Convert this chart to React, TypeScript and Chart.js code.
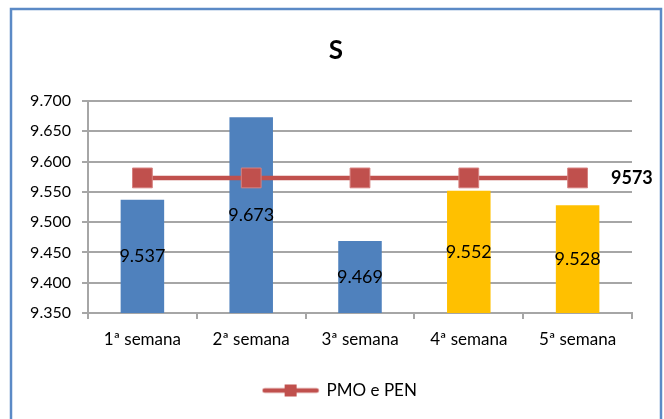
import React, { useEffect, useRef } from 'react';
import { Chart, registerables } from 'chart.js';
Chart.register(...registerables);

const categories = ['1ª semana', '2ª semana', '3ª semana', '4ª semana', '5ª semana'];
const barValues = [9.537, 9.673, 9.469, 9.552, 9.528];
const barColors = ['#4F81BD', '#4F81BD', '#4F81BD', '#FFC000', '#FFC000'];
const pmoValues = [9.573, 9.573, 9.573, 9.573, 9.573];
const pmoLabel = '9573';
const chartTitle = 'S';
const lineLabel = 'PMO e PEN';
const yMin = 9.35;
const yMax = 9.7;
const yStep = 0.05;

const FONT = 'Lato, "Liberation Sans", sans-serif';
const GRID = '#a6a6a6';
const RED = '#C0504D';

function makeLegendImage() {
  const img = document.createElement('canvas');
  img.width = 58;
  img.height = 14;
  const c = img.getContext('2d')!;
  c.strokeStyle = RED;
  c.lineWidth = 4.5;
  c.lineCap = 'round';
  c.beginPath();
  c.moveTo(3, 7);
  c.lineTo(55, 7);
  c.stroke();
  c.fillStyle = RED;
  c.fillRect(23, 1, 12, 12);
  return img;
}

const decorPlugin = {
  id: 'decor',
  beforeDraw(chart: any) {
    const ctx = chart.ctx;
    ctx.save();
    ctx.fillStyle = '#ffffff';
    ctx.fillRect(0, 0, chart.width, chart.height);
    ctx.restore();
  },
  afterDraw(chart: any) {
    const ctx = chart.ctx;
    const area = chart.chartArea;
    ctx.save();
    // frame
    ctx.strokeStyle = '#5b8ac6';
    ctx.lineWidth = 2.5;
    ctx.strokeRect(11, 9, 650, 440);
    // title
    ctx.fillStyle = '#000';
    ctx.font = `bold 26px ${FONT}`;
    ctx.textAlign = 'center';
    ctx.textBaseline = 'middle';
    ctx.fillText(chartTitle, 336, 51);
    // bar labels
    const barMeta = chart.getDatasetMeta(1);
    ctx.font = `18px ${FONT}`;
    barMeta.data.forEach((el: any, i: number) => {
      const y = (el.y + area.bottom) / 2;
      ctx.fillText(barValues[i].toFixed(3), el.x, y);
    });
    // line end label
    const lineMeta = chart.getDatasetMeta(0);
    const last = lineMeta.data[lineMeta.data.length - 1];
    ctx.font = `bold 18px ${FONT}`;
    ctx.textAlign = 'left';
    ctx.fillText(pmoLabel, 611, last.y);
    ctx.restore();
  },
};

export default function App() {
  const ref = useRef<HTMLCanvasElement>(null);
  useEffect(() => {
    const legendImg = makeLegendImage();
    const chart = new Chart(ref.current!, {
      type: 'bar',
      data: {
        labels: categories,
        datasets: [
          {
            type: 'line',
            label: lineLabel,
            data: pmoValues,
            borderColor: RED,
            backgroundColor: RED,
            borderWidth: 4.5,
            pointStyle: 'rect',
            pointRadius: 14,
            pointBackgroundColor: RED,
            pointBorderColor: 'rgba(214,130,128,1)',
            pointBorderWidth: 1,
            order: 1,
          } as any,
          {
            type: 'bar',
            label: 'Valores',
            data: barValues,
            backgroundColor: barColors,
            barPercentage: 0.4,
            categoryPercentage: 1,
            order: 2,
          },
        ],
      },
      options: {
        responsive: false,
        animation: false,
        layout: { padding: { top: 101, right: 0, bottom: 10, left: 16 } },
        plugins: {
          tooltip: { enabled: false },
          title: { display: false },
          legend: {
            position: 'bottom',
            labels: {
              usePointStyle: true,
              pointStyle: legendImg as any,
              pointStyleWidth: 55,
              boxHeight: 17,
              padding: 10,
              color: '#000',
              font: { size: 17, family: FONT },
              filter: (item: any) => item.datasetIndex === 0,
            },
          },
        },
        scales: {
          x: {
            grid: {
              display: true,
              drawOnChartArea: false,
              drawTicks: true,
              tickLength: 6,
              color: GRID,
              lineWidth: 2,
              offset: true,
            },
            border: { display: true, color: GRID, width: 2 },
            ticks: { padding: 10, color: '#000', font: { size: 17, family: FONT } },
            afterFit: (s: any) => {
              s.height = 59;
            },
          },
          y: {
            min: yMin,
            max: yMax,
            grid: { color: GRID, lineWidth: 2, tickLength: 6, drawTicks: true },
            border: { display: true, color: GRID, width: 2 },
            ticks: {
              stepSize: yStep,
              padding: 11,
              color: '#000',
              font: { size: 16, family: FONT },
              callback: (v: any) => Number(v).toFixed(3),
            },
            afterFit: (s: any) => {
              s.width = 72;
            },
          },
          yRight: {
            position: 'right',
            display: true,
            min: yMin,
            max: yMax,
            grid: { display: false, drawOnChartArea: false, drawTicks: false },
            border: { display: false },
            ticks: { display: false },
            afterFit: (s: any) => {
              s.width = 32;
            },
          },
        },
      },
      plugins: [decorPlugin],
    });
    return () => chart.destroy();
  }, []);
  return (
    <div style={{ position: 'absolute', left: 0, top: 0, width: 664, height: 419 }}>
      <canvas ref={ref} width={664} height={419} style={{ display: 'block' }} />
    </div>
  );
}
